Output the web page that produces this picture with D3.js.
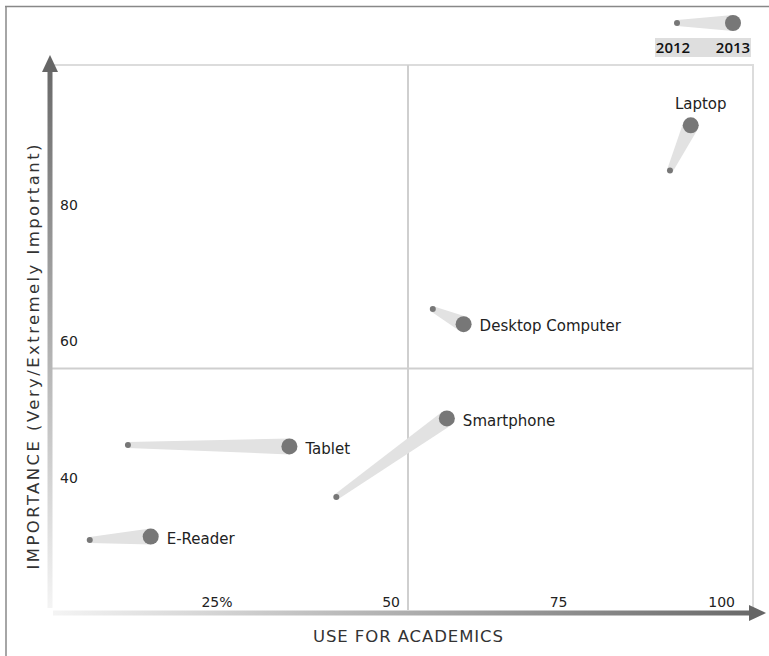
<!DOCTYPE html>
<html>
<head>
<meta charset="utf-8">
<script src="https://d3js.org/d3.v7.min.js"></script>
<style>
  body { margin: 0; background: #fff; }
  text { font-family: "DejaVu Sans", sans-serif; }
</style>
</head>
<body>
<div id="container"></div>
<script>
// devices, use for academics (%) and importance (%) in 2012 and 2013
var devices = ["Laptop", "Desktop Computer", "Smartphone", "Tablet", "E-Reader"];
var use2012 = [89.1, 53.7, 39.3, 8.2, 2.5];
var imp2012 = [85.0, 64.7, 37.2, 44.8, 30.9];
var use2013 = [92.2, 58.3, 55.8, 32.3, 11.6];
var imp2013 = [91.6, 62.5, 48.7, 44.6, 31.4];

var xTicks = [25, 50, 75, 100];
var xTickLabels = ["25%", "50", "75", "100"];
var yTicks = [80, 60, 40];
var years = ["2012", "2013"];
var splitX = 50, splitY = 56;

function init(){
    var W = 769, H = 656;
    var left = 50, top = 65, right = 753, bottom = 613;

    var x = d3.scaleLinear().domain([0, 100]).range([73, 743]);
    var y = d3.scaleLinear().domain([0, 100]).range([751, 68]);

    var svg = d3.select("#container")
        .append("svg")
        .attr("width", W)
        .attr("height", H);

    var defs = svg.append("defs");
    var gy = defs.append("linearGradient").attr("id", "gy")
        .attr("x1", 0).attr("y1", 1).attr("x2", 0).attr("y2", 0);
    gy.append("stop").attr("offset", "0%").attr("stop-color", "#f4f4f4");
    gy.append("stop").attr("offset", "100%").attr("stop-color", "#6a6a6a");
    var gx = defs.append("linearGradient").attr("id", "gx")
        .attr("x1", 0).attr("y1", 0).attr("x2", 1).attr("y2", 0);
    gx.append("stop").attr("offset", "0%").attr("stop-color", "#f4f4f4");
    gx.append("stop").attr("offset", "100%").attr("stop-color", "#6a6a6a");

    // outer border (top + left only)
    svg.append("line").attr("x1", 5).attr("y1", 6.5).attr("x2", W).attr("y2", 6.5)
        .attr("stroke", "#888").attr("stroke-width", 1.5);
    svg.append("line").attr("x1", 6).attr("y1", 6).attr("x2", 6).attr("y2", H)
        .attr("stroke", "#888").attr("stroke-width", 1.5);

    // plot frame
    svg.append("path")
        .attr("d", "M" + left + "," + top + "H" + right + "V" + (bottom - 5))
        .attr("fill", "none").attr("stroke", "#dcdcdc").attr("stroke-width", 2);

    // quadrant lines
    svg.append("line")
        .attr("x1", x(splitX)).attr("x2", x(splitX))
        .attr("y1", top).attr("y2", bottom - 3)
        .attr("stroke", "#cfcfcf").attr("stroke-width", 2);
    svg.append("line")
        .attr("x1", left).attr("x2", right)
        .attr("y1", y(splitY)).attr("y2", y(splitY))
        .attr("stroke", "#cfcfcf").attr("stroke-width", 2);

    // axis arrows
    svg.append("rect").attr("x", 47.5).attr("y", 70).attr("width", 5).attr("height", 538)
        .attr("fill", "url(#gy)");
    svg.append("path").attr("d", "M50,55L58,72L42,72Z").attr("fill", "#666");
    svg.append("rect").attr("x", 53).attr("y", 610.5).attr("width", 697).attr("height", 5)
        .attr("fill", "url(#gx)");
    svg.append("path").attr("d", "M766,613L749,605L749,621Z").attr("fill", "#666");

    // tick labels
    svg.selectAll(".xt")
        .data(xTicks)
        .enter()
        .append("text")
        .attr("class", "xt")
        .attr("x", function (d) { return x(d) - 8; })
        .attr("y", 607)
        .attr("text-anchor", "end")
        .style("font-size", "14px")
        .attr("fill", "#222")
        .text(function (d, i) { return xTickLabels[i]; });

    svg.selectAll(".yt")
        .data(yTicks)
        .enter()
        .append("text")
        .attr("class", "yt")
        .attr("x", 60)
        .attr("y", function (d) { return y(d); })
        .attr("dy", "0.35em")
        .style("font-size", "14px")
        .attr("fill", "#222")
        .text(function (d) { return d; });

    // axis titles
    svg.append("text")
        .attr("x", 408).attr("y", 642)
        .attr("text-anchor", "middle")
        .attr("textLength", 190)
        .attr("lengthAdjust", "spacing")
        .style("font-size", "16.5px")
        .attr("fill", "#333")
        .text("USE FOR ACADEMICS");

    svg.append("text")
        .attr("transform", "translate(39,357) rotate(-90)")
        .attr("text-anchor", "middle")
        .attr("textLength", 425)
        .attr("lengthAdjust", "spacing")
        .style("font-size", "16.5px")
        .attr("fill", "#333")
        .text("IMPORTANCE (Very/Extremely Important)");

    var r1 = 3, r2 = 8;
    function wedge(x1, y1, x2, y2) {
        var dx = x2 - x1, dy = y2 - y1;
        var len = Math.sqrt(dx * dx + dy * dy);
        var nx = -dy / len, ny = dx / len;
        return "M" + (x1 + nx * r1) + "," + (y1 + ny * r1) +
            "L" + (x2 + nx * r2) + "," + (y2 + ny * r2) +
            "L" + (x2 - nx * r2) + "," + (y2 - ny * r2) +
            "L" + (x1 - nx * r1) + "," + (y1 - ny * r1) + "Z";
    }

    var data = devices.map(function (d, i) {
        return { name: d, x1: use2012[i], y1: imp2012[i], x2: use2013[i], y2: imp2013[i] };
    });

    svg.selectAll(".wedge")
        .data(data)
        .enter()
        .append("path")
        .attr("class", "wedge")
        .attr("d", function (d) { return wedge(x(d.x1), y(d.y1), x(d.x2), y(d.y2)); })
        .attr("fill", "#e2e2e2");

    svg.selectAll(".dot12")
        .data(data)
        .enter()
        .append("circle")
        .attr("cx", function (d) { return x(d.x1); })
        .attr("cy", function (d) { return y(d.y1); })
        .attr("r", r1)
        .attr("fill", "#777");

    svg.selectAll(".dot13")
        .data(data)
        .enter()
        .append("circle")
        .attr("cx", function (d) { return x(d.x2); })
        .attr("cy", function (d) { return y(d.y2); })
        .attr("r", r2)
        .attr("fill", "#777");

    svg.selectAll(".lbl")
        .data(data)
        .enter()
        .append("text")
        .attr("class", "lbl")
        .attr("x", function (d) { return d.name === "Laptop" ? x(d.x2) + 10 : x(d.x2) + 16; })
        .attr("y", function (d) { return d.name === "Laptop" ? y(d.y2) - 22 : y(d.y2) + 2; })
        .attr("dy", "0.35em")
        .attr("text-anchor", function (d) { return d.name === "Laptop" ? "middle" : "start"; })
        .style("font-size", "15px")
        .attr("fill", "#222")
        .text(function (d) { return d.name; });

    // legend
    var lx1 = 677, lx2 = 733, ly = 23;
    svg.append("rect").attr("x", 655).attr("y", 38).attr("width", 96).attr("height", 19)
        .attr("fill", "#dedede");
    svg.append("path").attr("d", wedge(lx1, ly, lx2, ly)).attr("fill", "#e2e2e2");
    svg.append("circle").attr("cx", lx1).attr("cy", ly).attr("r", r1).attr("fill", "#777");
    svg.append("circle").attr("cx", lx2).attr("cy", ly).attr("r", r2).attr("fill", "#777");
    svg.selectAll(".yr")
        .data(years)
        .enter()
        .append("text")
        .attr("x", function (d, i) { return i === 0 ? 673 : 733; })
        .attr("y", 53)
        .attr("text-anchor", "middle")
        .style("font-size", "15px")
        .style("font-weight", "600")
        .attr("fill", "#111")
        .style("font-family", "'Open Sans', sans-serif")
        .text(function (d) { return d; });
}
init();
</script>
</body>
</html>
